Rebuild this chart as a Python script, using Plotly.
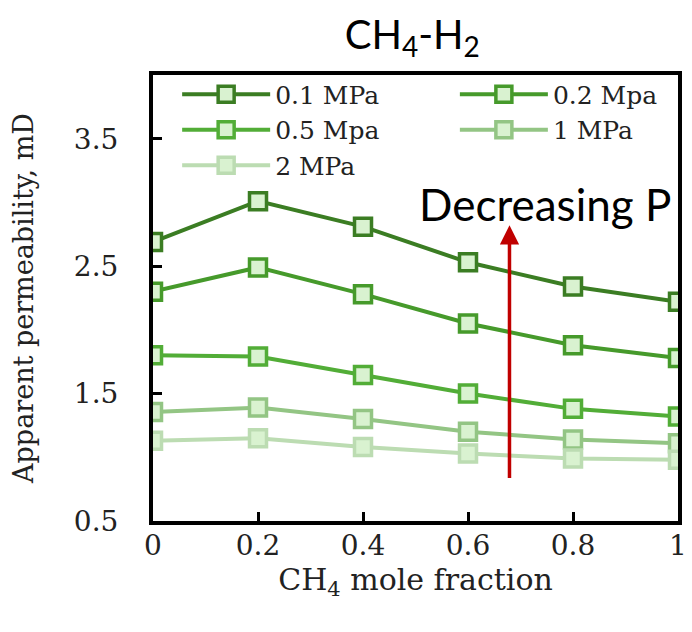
import plotly.graph_objects as go

# CH4 mole fraction
x_frac = [0, 0.2, 0.4, 0.6, 0.8, 1.0]

# apparent permeability (mD) per pressure
k_01 = [2.69, 3.01, 2.81, 2.53, 2.34, 2.22]
k_02 = [2.30, 2.49, 2.28, 2.05, 1.88, 1.78]
k_05 = [1.80, 1.79, 1.645, 1.50, 1.38, 1.32]
k_1 = [1.355, 1.39, 1.30, 1.20, 1.14, 1.11]
k_2 = [1.13, 1.15, 1.08, 1.03, 0.99, 0.98]

names = ["0.1 MPa", "0.2 Mpa", "0.5 Mpa", "1 MPa", "2 MPa"]
series = [k_01, k_02, k_05, k_1, k_2]
colors = ["#3b7d23", "#469a2b", "#52ad37", "#93c584", "#bcdcb2"]
# left legend column / right legend column (like the Excel legend)
legend_of = ["legend", "legend2", "legend", "legend2", "legend"]
marker_fill = "#d9f2d0"

serif = "DejaVu Serif"
sans = "Lato"

fig = go.Figure()

for nm, ys, col, lg in zip(names, series, colors, legend_of):
    fig.add_trace(go.Scatter(
        x=x_frac, y=ys, name=nm, legend=lg,
        mode="lines+markers",
        line=dict(color=col, width=4),
        marker=dict(symbol="square", size=17, color=marker_fill,
                    line=dict(color=col, width=3.5))
    ))

# arrow + label
fig.add_annotation(
    x=0.679, y=2.82, ax=0.679, ay=0.825,
    xref="x", yref="y", axref="x", ayref="y",
    showarrow=True, arrowhead=2, arrowsize=1.1, arrowwidth=3.5,
    arrowcolor="#c00000", text=""
)
fig.add_annotation(
    x=0.99, y=2.985, xref="x", yref="y", xanchor="right",
    text="Decreasing P", showarrow=False,
    font=dict(family=sans, size=44, color="black")
)

legend_style = dict(
    orientation="v", y=1.008, xanchor="left", yanchor="top",
    bgcolor="rgba(0,0,0,0)",
    font=dict(family=serif, size=25, color="#222"),
    itemwidth=88, tracegroupgap=0, traceorder="normal"
)

fig.update_layout(
    width=684, height=624,
    margin=dict(l=145, r=5, t=67, b=111),
    plot_bgcolor="white", paper_bgcolor="white",
    title=dict(text="CH<sub>4</sub>-H<sub>2</sub>", x=0.591, xanchor="center",
               y=0.957, yanchor="middle",
               font=dict(family=sans, size=40, color="black")),
    showlegend=True,
    legend=dict(x=0.046, **legend_style),
    legend2=dict(x=0.575, **legend_style),
    xaxis=dict(
        range=[0, 1], tickmode="array",
        tickvals=[0, 0.2, 0.4, 0.6, 0.8, 1.0],
        ticktext=["0", "0.2", "0.4", "0.6", "0.8", "1"],
        ticks="inside", ticklen=9, tickwidth=3, tickcolor="black",
        showline=True, linewidth=4, linecolor="black", mirror=True,
        showgrid=False, zeroline=False,
        ticklabelstandoff=-4,
        tickfont=dict(family=serif, size=28, color="#222"),
        title=dict(text="CH<sub>4</sub> mole fraction", standoff=4,
                   font=dict(family=serif, size=30, color="#222"))
    ),
    yaxis=dict(
        range=[0.5, 4.0], tick0=0.5, dtick=1,
        ticks="inside", ticklen=9, tickwidth=3, tickcolor="black",
        showline=True, linewidth=4, linecolor="black", mirror=True,
        showgrid=False, zeroline=False,
        ticklabelstandoff=25,
        tickfont=dict(family=serif, size=28, color="#222"),
        title=dict(text="Apparent permeability, mD", standoff=33,
                   font=dict(family=serif, size=27, color="#222"))
    ),
)

fig.write_html("out.html")
